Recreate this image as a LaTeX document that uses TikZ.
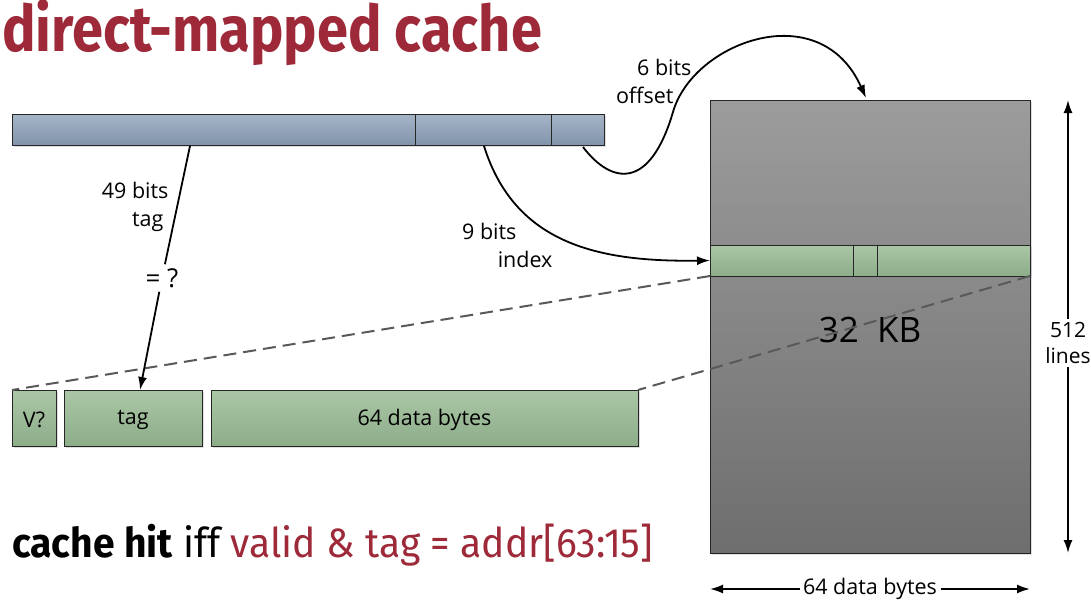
\documentclass[tikz,border=0pt]{standalone}
\usepackage{fontspec}
\setmainfont{Open Sans}
\newfontfamily\titlefont{Fira Sans}
\usetikzlibrary{arrows.meta,shadows}
\definecolor{slidered}{HTML}{9E2A39}
\definecolor{addrtop}{HTML}{A6B5C6}
\definecolor{addrbot}{HTML}{8194AB}
\definecolor{greentop}{HTML}{AAC6A6}
\definecolor{greenbot}{HTML}{8DAD89}
\definecolor{blocktop}{HTML}{9C9C9C}
\definecolor{blockbot}{HTML}{6E6E6E}
\tikzset{
  box/.style={draw=black!85,line width=0.9pt,inner sep=0pt,outer sep=0pt,anchor=north west,
    drop shadow={shadow xshift=2pt,shadow yshift=-2pt,opacity=0.25}},
  field/.style={box,minimum height=31pt,top color=addrtop,bottom color=addrbot},
  entry/.style={box,minimum height=31pt,top color=greentop,bottom color=greenbot},
  slot/.style={box,minimum height=56pt,top color=greentop,bottom color=greenbot},
  arr/.style={line width=1.8pt,-{Latex[length=13pt,width=9pt]}},
  lbl/.style={font=\fontsize{21.5}{28}\selectfont},
  dashline/.style={draw=black!65,line width=2pt,dash pattern=on 13pt off 7pt}
}
\begin{document}
\begin{tikzpicture}[x=1pt,y=-1pt]
\useasboundingbox (0,0) rectangle (1091,602);
% title
\node[anchor=base west,inner sep=0pt,text=slidered] (title) at (2,52)
  {\titlefont\bfseries\fontsize{64}{70}\selectfont\scalebox{0.875}[1]{direct-mapped cache}};
% address
\node[field,minimum width=403pt](tagf) at (12,114) {};
\node[field,minimum width=136pt](idxf) at (415,114) {};
\node[field,minimum width=53pt](offf) at (551,114) {};
% cache
\node[box,minimum width=320pt,minimum height=453pt,top color=blocktop,bottom color=blockbot](cache) at (710,100) {};
\node[entry,minimum width=143pt](lineT) at (710,245) {};
\node[entry,minimum width=24pt](lineV) at (853,245) {};
\node[entry,minimum width=153pt](lineD) at (877,245) {};
\node[font=\fontsize{35}{40}\selectfont](kb) at (870,330) {32\ \ KB};
% one line, spread out
\node[slot,minimum width=44pt](vbox) at (12,390) {};
\node[slot,minimum width=138pt](tagbox) at (64,390) {};
\node[slot,minimum width=427pt](databox) at (211,390) {};
\node[lbl] at ([yshift=-2pt]vbox.center) {V?};
\node[lbl] at ([yshift=-2pt]tagbox.center) {tag};
\node[lbl] at ([yshift=-2pt]databox.center) {64 data bytes};
\draw[dashline] (lineT.south west) -- (vbox.north west);
\draw[dashline] (lineD.south east) -- (databox.north east);
% tag compare
\coordinate (tagsrc) at (190,146);
\coordinate (tagdst) at (140,390);
\node[font=\fontsize{26}{30}\selectfont,inner sep=4pt](eq) at (162,278) {= ?};
\draw[line width=1.8pt] (tagsrc) -- (eq);
\draw[arr] (eq) -- (tagdst);
\node[lbl,anchor=east,align=right](taglbl) at (172,207) {49 bits\\tag\hspace*{5pt}};
% index
\coordinate (idxsrc) at (484,146);
\draw[arr] (idxsrc) .. controls (515,245) and (600,262) .. (lineT.west);
\node[lbl,anchor=east,align=right](idxlbl) at (556,245) {9 bits\hspace*{36pt}\\index};
% offset
\coordinate (offsrc) at (583,147);
\coordinate (offmid) at (673,112);
\coordinate (offdst) at (866,98);
\draw[arr] (offsrc) .. controls (612,185) and (650,190) .. (offmid)
  .. controls (693,42) and (820,-5) .. (offdst);
\node[lbl,anchor=east,align=right](offlbl) at (695,81) {6 bits\\offset\hspace*{18pt}};
% sizes
\node[lbl,align=center,font=\fontsize{21}{26}\selectfont](lines) at (1068,343) {512\\lines};
\draw[arr] (lines.north) -- (lines.north |- cache.north);
\draw[arr] (lines.south) -- (lines.south |- cache.south);
\node[lbl](bytes) at (870,589) {64 data bytes};
\draw[arr] (bytes.west) -- (bytes.west -| cache.west);
\draw[arr] (bytes.east) -- (bytes.east -| cache.east);
% rule
\node[anchor=base west,inner sep=0pt](rule) at (12,557)
  {\titlefont\fontsize{41}{44}\selectfont\scalebox{0.953}[1]{\textbf{cache hit} iff \textcolor{slidered}{valid \& tag = addr[63:15]}}};
\end{tikzpicture}
\end{document}
